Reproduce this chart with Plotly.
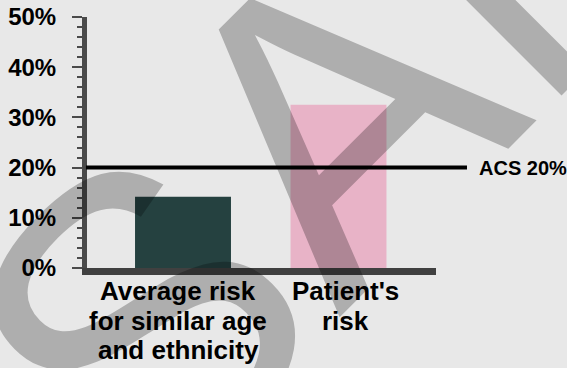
import plotly.graph_objects as go

# ---- data ----
categories = ["Average risk for similar age and ethnicity", "Patient's risk"]
category_lines = [["Average risk", "for similar age", "and ethnicity"], ["Patient's", "risk"]]
values = [14.2, 32.5]
bar_colors = ["#254140", "#e8b3c7"]
threshold_value = 20
threshold_label = "ACS 20%"
y_tick_values = [0, 10, 20, 30, 40, 50]
y_tick_labels = ["0%", "10%", "20%", "30%", "40%", "50%"]
watermark_parts = ["S", "AMPLE"]   # watermark "SAMPLE"

FONT = "Liberation Sans, Arial, sans-serif"
BG = "#e8e8e8"

fig = go.Figure()
fig.add_trace(go.Bar(
    x=categories, y=values, width=0.617,
    marker=dict(color=bar_colors, line=dict(width=0)),
    hoverinfo="skip",
))

fig.update_layout(
    width=567, height=368,
    margin=dict(l=87, r=131, t=17, b=100, pad=0, autoexpand=False),
    paper_bgcolor=BG, plot_bgcolor=BG,
    showlegend=False,
    font=dict(family=FONT, color="black"),
    xaxis=dict(
        type="category", categoryorder="array", categoryarray=categories,
        range=[-0.6174, 1.627], showgrid=False, zeroline=False,
        showline=True, linewidth=7, linecolor="#404040",
        ticks="", showticklabels=False, fixedrange=True, automargin=False,
    ),
    yaxis=dict(
        range=[0, 50], showgrid=False, zeroline=False,
        showline=True, linewidth=5, linecolor="#4a4a4a",
        tickmode="array", tickvals=y_tick_values, ticktext=y_tick_labels,
        ticks="outside", ticklen=10, tickwidth=2, tickcolor="#4a4a4a",
        minor=dict(dtick=2, ticks="outside", ticklen=5, tickwidth=2, tickcolor="#4a4a4a"),
        tickfont=dict(family=FONT, size=24, color="black", weight="bold"),
        ticklabelstandoff=11, fixedrange=True, automargin=False,
    ),
)

# threshold line
fig.add_shape(type="line", xref="paper", yref="y",
              x0=-0.003, x1=1.0888, y0=threshold_value, y1=threshold_value,
              line=dict(color="black", width=4), layer="above")
fig.add_annotation(text=threshold_label, xref="paper", yref="y",
                   x=1.1175, y=threshold_value, xanchor="left", yanchor="middle",
                   showarrow=False,
                   font=dict(family=FONT, size=20, color="black", weight="bold"))

# category labels (one annotation per line)
x_shifts = [-5, 7]
line_shifts = [-23, -52.5, -82]
for cat, lines, xs in zip(categories, category_lines, x_shifts):
    for i, ln in enumerate(lines):
        fig.add_annotation(text=ln, xref="x", yref="paper", x=cat, y=0,
                           xanchor="center", yanchor="middle",
                           xshift=xs, yshift=line_shifts[i], showarrow=False,
                           font=dict(family=FONT, size=26, color="black", weight="bold"))

# watermark "SAMPLE", rotated, semi-transparent
wm_positions = [(1.587 - 0.7071 * 712 / 349 + 3 / 349, 1.821 - 0.7071 * 712 / 251 - 8 / 251),
                (1.587 + 0.7071 * 140 / 349, 1.821 + 0.7071 * 140 / 251)]
for part, (wx, wy) in zip(watermark_parts, wm_positions):
    fig.add_annotation(text=part, xref="paper", yref="paper", x=wx, y=wy,
                       xanchor="center", yanchor="middle",
                       textangle=-45, showarrow=False,
                       font=dict(family=FONT, size=420, color="rgba(0,0,0,0.25)"))

fig.write_html("out.html")
